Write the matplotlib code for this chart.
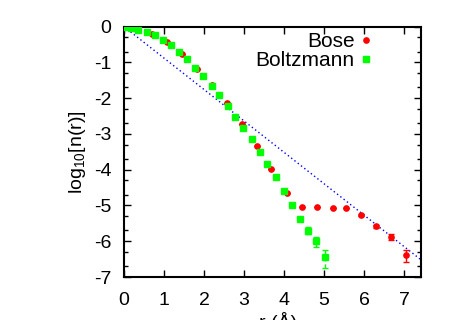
import numpy as np
import matplotlib
matplotlib.use("Agg")
import matplotlib.pyplot as plt
from matplotlib.lines import Line2D

plt.rcParams['font.family'] = ['Liberation Sans', 'DejaVu Sans']
plt.rcParams['mathtext.fontset'] = 'custom'
plt.rcParams['mathtext.rm'] = 'Liberation Sans'
plt.rcParams['axes.unicode_minus'] = False

# Bose (red circles)
bose_r = [0.0, 0.33, 0.69, 1.08, 1.46, 1.83, 2.19, 2.57, 2.94, 3.32,
          3.68, 4.06, 4.44, 4.83, 5.21, 5.55, 5.93, 6.30, 6.68, 7.05]
bose_logn = [0.0, -0.06, -0.20, -0.44, -0.76, -1.17, -1.64, -2.12, -2.73, -3.33,
             -3.98, -4.64, -5.05, -5.05, -5.08, -5.06, -5.27, -5.58, -5.87, -6.39]
bose_err_up = [0, 0, 0, 0, 0, 0, 0, 0, 0, 0,
               0, 0, 0, 0, 0, 0, 0.02, 0.03, 0.075, 0.14]
bose_err_dn = [0, 0, 0, 0, 0, 0, 0, 0, 0, 0,
               0, 0, 0, 0, 0, 0, 0.02, 0.04, 0.09, 0.20]

# Boltzmann (green squares)
boltz_r = [0.0, 0.17, 0.36, 0.57, 0.77, 0.98, 1.17, 1.38, 1.58, 1.78,
           1.98, 2.19, 2.38, 2.59, 2.78, 2.98, 3.19, 3.40, 3.58, 3.79,
           3.99, 4.20, 4.40, 4.60, 4.80, 5.01]
boltz_logn = [0.0, -0.04, -0.08, -0.16, -0.24, -0.37, -0.52, -0.72, -0.91, -1.15,
              -1.39, -1.65, -1.92, -2.21, -2.52, -2.83, -3.15, -3.50, -3.84, -4.21,
              -4.60, -4.99, -5.39, -5.70, -6.00, -6.43]
boltz_err_up = [0] * 23 + [0.09, 0.12, 0.19]
boltz_err_dn = [0] * 23 + [0.11, 0.16, 0.33]

# dotted reference line
line_r = [0.0, 7.42]
line_logn = [0.0, -6.52]

fig = plt.figure(figsize=(4.57, 3.2), dpi=100)
ax = fig.add_axes([124 / 457, 1 - 277 / 320, 297 / 457, 250.3 / 320])

ax.plot(line_r, line_logn, color='blue', linestyle=(0, (1, 2)), linewidth=1.0, zorder=1)

ax.errorbar(bose_r, bose_logn, yerr=[bose_err_dn, bose_err_up], fmt='o',
            color='#ff0000', ms=3.8, capsize=2, elinewidth=1, zorder=2)
eb2 = ax.errorbar(boltz_r, boltz_logn, yerr=[boltz_err_dn, boltz_err_up], fmt='s',
                  color='#00ff00', ms=4.3, capsize=2, elinewidth=1, zorder=3)
eb2[2][0].set_linestyle((0, (3, 2)))

ax.set_xlim(0, 7.42)
ax.set_ylim(-7, 0)
ax.set_xticks(range(0, 8))
ax.set_yticks(range(-7, 1))
minor = []
for d in range(0, -7, -1):
    minor += [d - 0.301, d - 0.699]
ax.set_yticks(minor, minor=True)

ax.tick_params(which='both', direction='in', top=True, right=True, labelsize=14, width=1)
ax.tick_params(which='major', length=5)
ax.tick_params(which='minor', length=3)
ax.tick_params(axis='x', pad=11)
ax.tick_params(axis='y', pad=9)
for s in ax.spines.values():
    s.set_linewidth(1.5)

ax.set_ylabel(r'log$_{10}$[n(r)]', fontsize=14, labelpad=4)
ax.set_xlabel('r (Å)', fontsize=14)
ax.xaxis.set_label_coords(0.52, -0.14)
ax.xaxis.label.set_va('top')

handles = [Line2D([], [], marker='o', ls='none', color='#ff0000', ms=3.8),
           Line2D([], [], marker='s', ls='none', color='#00ff00', ms=4.3)]
ax.legend(handles, ['Bose', 'Boltzmann'], loc='upper right', bbox_to_anchor=(0.865, 1.02),
          markerfirst=False, frameon=False, fontsize=15, handlelength=0.4,
          handletextpad=0.35, borderpad=0, labelspacing=0.0)

plt.savefig('out.png', dpi=100)
